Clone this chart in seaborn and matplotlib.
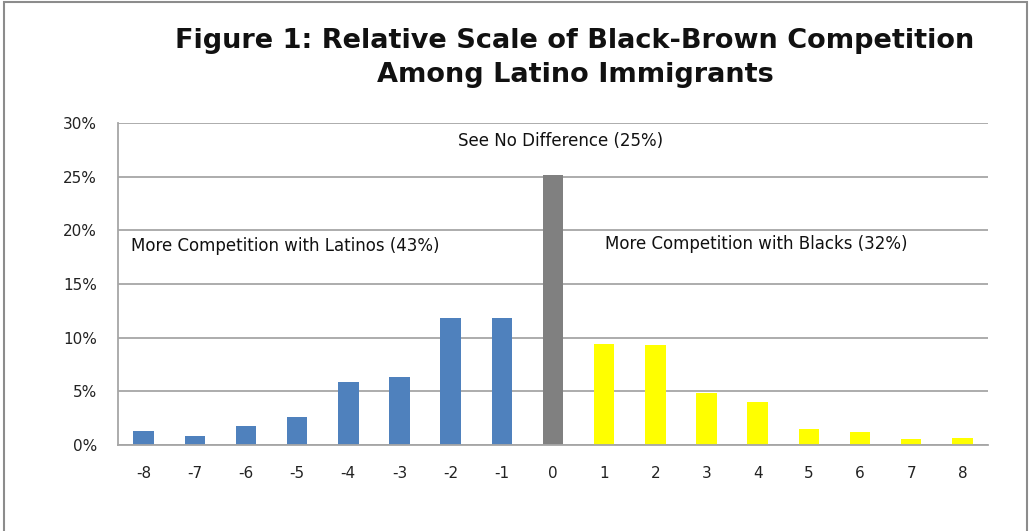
import matplotlib
matplotlib.use("Agg")
import matplotlib.pyplot as plt
import seaborn as sns
import pandas as pd
from matplotlib.patches import Rectangle
from matplotlib.ticker import PercentFormatter

categories = ["-8", "-7", "-6", "-5", "-4", "-3", "-2", "-1", "0",
              "1", "2", "3", "4", "5", "6", "7", "8"]
values = [1.3, 0.87, 1.8, 2.6, 5.9, 6.3, 11.8, 11.8, 25.15,
          9.4, 9.3, 4.8, 4.05, 1.45, 1.2, 0.53, 0.62]
groups = ["Latinos"] * 8 + ["None"] + ["Blacks"] * 8
palette = {"Latinos": "#4F81BD", "None": "#808080", "Blacks": "#FFFF00"}

title = "Figure 1: Relative Scale of Black-Brown Competition\nAmong Latino Immigrants"
label_none = "See No Difference (25%)"
label_latinos = "More Competition with Latinos (43%)"
label_blacks = "More Competition with Blacks (32%)"
yticks = [0, 5, 10, 15, 20, 25, 30]

df = pd.DataFrame({"category": categories, "value": values, "group": groups})

sns.set_theme(style="white")
plt.rcParams["font.family"] = ["DejaVu Sans"]

W, H = 1030, 531
fig = plt.figure(figsize=(W / 100, H / 100), dpi=100)
ax = fig.add_axes([118 / W, 1 - 445 / H, (988 - 118) / W, (445 - 123) / H])

sns.barplot(data=df, x="category", y="value", hue="group", palette=palette,
            order=categories, dodge=False, width=0.4, legend=False, ax=ax,
            saturation=1, linewidth=0)

ax.set_ylim(0, 30)
ax.set_xlim(-0.5, len(categories) - 0.5)
ax.set_yticks(yticks)
ax.yaxis.set_major_formatter(PercentFormatter(decimals=0))
ax.grid(axis="y", color="#A6A6A6", linewidth=1.3)
ax.set_axisbelow(True)
ax.set_xlabel("")
ax.set_ylabel("")
for s in ["top", "right"]:
    ax.spines[s].set_visible(False)
ax.spines["left"].set_color("#A6A6A6")
ax.spines["left"].set_linewidth(1.3)
ax.spines["bottom"].set_color("#A6A6A6")
ax.spines["bottom"].set_linewidth(1.3)
ax.tick_params(axis="x", length=0, pad=15, labelsize=11, colors="#222222")
ax.tick_params(axis="y", length=0, pad=15, labelsize=11, colors="#222222")

ax.text(8.14, 28.3, label_none, ha="center", va="center", fontsize=12, color="#111111")
ax.text(-0.25, 18.55, label_latinos, ha="left", va="center", fontsize=12, color="#111111")
ax.text(9.02, 18.7, label_blacks, ha="left", va="center", fontsize=12, color="#111111")

fig.text(575 / W, 1 - 58 / H, title, ha="center", va="center", fontsize=19.5,
         fontweight="bold", linespacing=1.35, color="#111111")

fig.patches.append(Rectangle((4 / W, -0.05), (1027 - 4) / W, 1.05 - 2 / H,
                             transform=fig.transFigure, fill=False,
                             edgecolor="#8C8C8C", linewidth=1.5))

fig.savefig("out.png", dpi=100)
